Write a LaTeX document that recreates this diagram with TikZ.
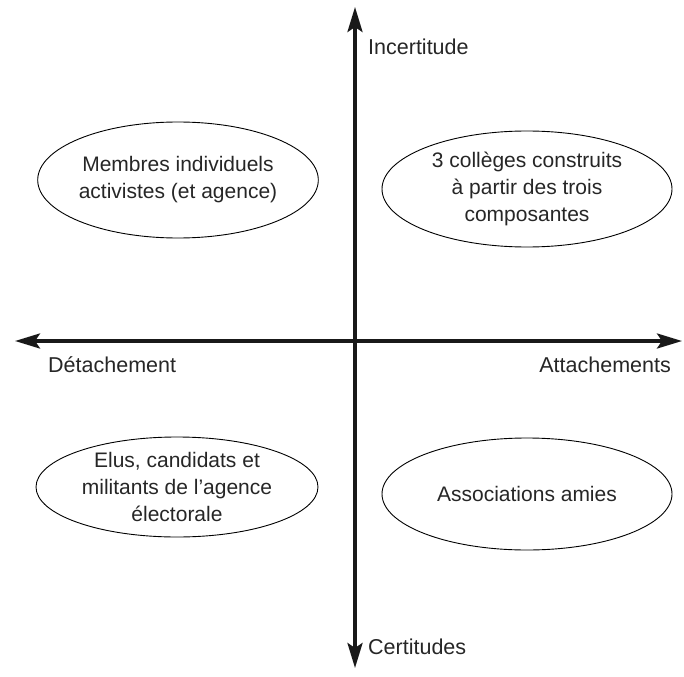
\documentclass[tikz,border=0pt]{standalone}
\usepackage{fontspec}
\setmainfont{Liberation Sans}
\usetikzlibrary{arrows.meta,shapes.geometric}
\begin{document}
\begin{tikzpicture}[x=1pt,y=-1pt,
  axis/.style={line width=3.6pt,-{Stealth[length=25pt,width=15pt,inset=5pt]},color=black!90},
  oval/.style={ellipse,draw,line width=0.9pt,inner sep=0pt,align=center,font=\fontsize{21}{27}\selectfont,text=black!85},
  lab/.style={font=\fontsize{21.5}{25}\selectfont,text=black!85,inner sep=0pt}]
\useasboundingbox (0,0) rectangle (684,676);
\coordinate (center) at (355,341);
\coordinate (top) at (355,7);
\coordinate (bottom) at (355,668);
\coordinate (left) at (15,341);
\coordinate (right) at (682,341);
\draw[axis] (center) -- (top);
\draw[axis] (center) -- (bottom);
\draw[axis] (center) -- (left);
\draw[axis] (center) -- (right);
\node[oval,minimum width=280pt,minimum height=116pt] (tl) at (178,180) {Membres individuels\\activistes (et agence)};
\node[oval,minimum width=290pt,minimum height=116pt] (tr) at (527,189) {3 collèges construits\\à partir des trois\\composantes};
\node[oval,minimum width=282pt,minimum height=100pt] (bl) at (177,487) {Elus, candidats et\\militants de l’agence\\électorale};
\node[oval,minimum width=290pt,minimum height=112pt] (br) at (527,494) {Associations amies};
\node[lab,anchor=west] (inc) at (368,47) {Incertitude};
\node[lab,anchor=west] (cer) at (368,647) {Certitudes};
\node[lab,anchor=west] (det) at (48,365) {Détachement};
\node[lab,anchor=east] (att) at (671,365) {Attachements};
\end{tikzpicture}
\end{document}
